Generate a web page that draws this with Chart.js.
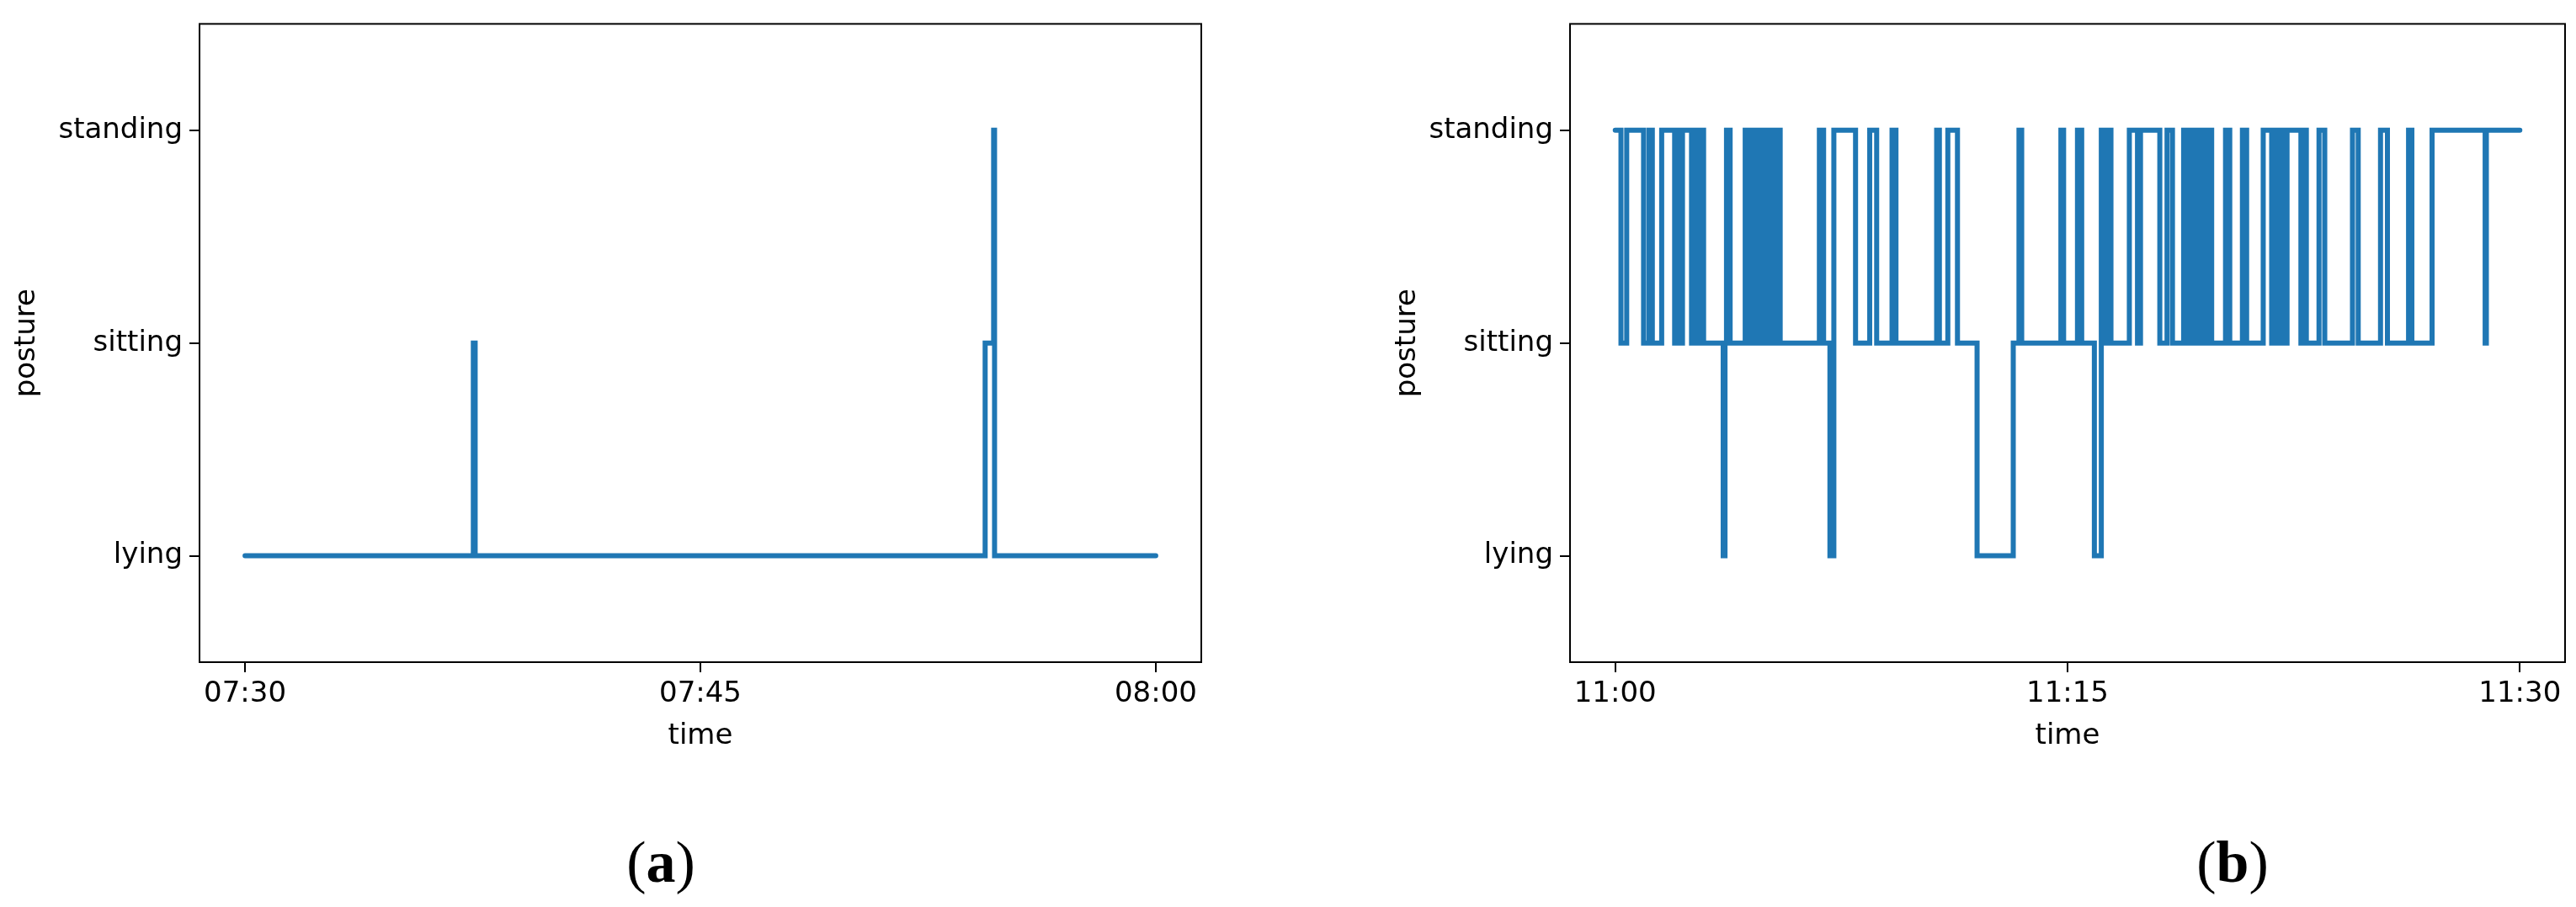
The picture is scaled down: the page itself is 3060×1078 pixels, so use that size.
<!DOCTYPE html>
<html>
<head>
<meta charset="utf-8">
<script src="https://cdn.jsdelivr.net/npm/chart.js@4.4.1/dist/chart.umd.min.js"></script>
<style>
body { margin: 0; width: 3060px; height: 1078px; background: #fff; position: relative; overflow: hidden; }
.box { position: absolute; top: 0; height: 900px; }
.cap { position: absolute; top: 985px; font-family: "Liberation Serif", serif; font-size: 70px; transform: translateX(-50%); }
.cap b { font-weight: bold; }
</style>
</head>
<body>
<div class="box" style="left:0;width:1440px"><canvas id="chartA"></canvas></div>
<div class="box" style="left:1640px;width:1420px"><canvas id="chartB"></canvas></div>
<div class="cap" style="left:785px">(<b>a</b>)</div>
<div class="cap" style="left:2652px">(<b>b</b>)</div>
<script>
// posture levels: 0 lying, 1 sitting, 2 standing
let postureLabels = ["lying", "sitting", "standing"];

// panel (a): minutes after 07:30 where a new posture starts
let timesA = [0, 7.52, 7.58, 24.38, 24.66, 24.69, 30];
let statesA = [0, 1, 0, 1, 2, 0, 0];
let tickLabelsA = ["07:30", "07:45", "08:00"];

// panel (b): minutes after 11:00 where a new posture starts
let timesB = [0, 0.19, 0.38, 0.94, 1.12, 1.23, 1.54, 1.97, 2.06, 2.14, 2.23, 2.53, 2.62, 2.74, 2.83, 2.93,
  3.58, 3.64, 3.69, 3.81, 4.31, 4.41, 4.50, 4.59, 4.73, 4.87, 4.96, 5.05, 5.14, 5.24, 5.33, 5.47,
  6.77, 6.91, 7.12, 7.25, 7.97, 8.44, 8.67, 9.18, 9.31, 10.66, 10.75, 11.03, 11.35, 12.0, 13.2,
  13.39, 13.48, 14.78, 14.87, 15.33, 15.47, 15.89, 16.12, 16.19, 16.26, 16.33, 16.38, 16.44,
  17.05, 17.32, 17.42, 18.06, 18.30, 18.48, 18.85, 18.99, 19.08, 19.17, 19.26, 19.35, 19.44,
  19.54, 19.63, 19.78, 20.24, 20.38, 20.80, 20.94, 21.49, 21.77, 21.86, 21.95, 22.05, 22.19,
  22.28, 22.74, 22.83, 22.92, 23.34, 23.53, 24.45, 24.64, 25.38, 25.61, 26.31, 26.42, 27.09,
  28.85, 28.89, 30];
let statesB = [2, 1, 2, 1, 2, 1, 2, 1, 2, 1, 2, 1, 2, 1, 2, 1,
  0, 1, 2, 1, 2, 1, 2, 1, 2, 1, 2, 1, 2, 1, 2, 1,
  2, 1, 0, 2, 1, 2, 1, 2, 1, 2, 1, 2, 1, 0, 1,
  2, 1, 2, 1, 2, 1, 0, 2, 1, 2, 1, 2, 1,
  2, 1, 2, 1, 2, 1, 2, 1, 2, 1, 2, 1, 2,
  1, 2, 1, 2, 1, 2, 1, 2, 1, 2, 1, 2, 1,
  2, 1, 2, 1, 2, 1, 2, 1, 2, 1, 2, 1, 2,
  1, 2, 2];
let tickLabelsB = ["11:00", "11:15", "11:30"];
let tickMinutes = [0, 15, 30];

let frame = {
  id: "frame",
  afterDraw(chart) {
    let a = chart.chartArea, c = chart.ctx;
    c.save();
    c.strokeStyle = "#000";
    c.lineWidth = 2;
    c.strokeRect(a.left, a.top, a.right - a.left, a.bottom - a.top);
    c.restore();
  }
};

function makeChart(id, times, states, tickLabels, yWidth) {
  let font = { family: "DejaVu Sans", size: 34 };
  return new Chart(document.getElementById(id), {
    type: "line",
    data: {
      datasets: [{
        data: times.map((t, i) => ({ x: t, y: states[i] })),
        borderColor: "#1f77b4",
        borderWidth: 6,
        pointRadius: 0,
        stepped: "before",
        borderCapStyle: "round"
      }]
    },
    options: {
      responsive: false,
      animation: false,
      layout: { padding: { top: 20, right: 13, left: 0, bottom: 0 } },
      plugins: { legend: { display: false }, tooltip: { enabled: false } },
      scales: {
        x: {
          type: "linear", min: -1.5, max: 31.5,
          afterBuildTicks: s => { s.ticks = tickMinutes.map(v => ({ value: v })); },
          afterFit: s => { s.height = 113; },
          ticks: { font: font, color: "#000", maxRotation: 0, padding: 6,
            callback: v => tickLabels[tickMinutes.indexOf(v)] },
          grid: { drawOnChartArea: false, tickLength: 12, color: "#000", lineWidth: 2 },
          border: { display: false },
          title: { display: true, text: "time", font: font, color: "#000", padding: { top: 4 } }
        },
        y: {
          min: -0.5, max: 2.5,
          afterBuildTicks: s => { s.ticks = [0, 1, 2].map(v => ({ value: v })); },
          afterFit: s => { s.width = yWidth; },
          ticks: { font: font, color: "#000", padding: 8, callback: v => postureLabels[v] },
          grid: { drawOnChartArea: false, tickLength: 12, color: "#000", lineWidth: 2 },
          border: { display: false },
          title: { display: true, text: "posture", font: font, color: "#000", padding: { top: 12 } }
        }
      }
    },
    plugins: [frame]
  });
}

document.getElementById("chartA").width = 1440;
document.getElementById("chartA").height = 900;
document.getElementById("chartB").width = 1420;
document.getElementById("chartB").height = 900;
makeChart("chartA", timesA, statesA, tickLabelsA, 237);
makeChart("chartB", timesB, statesB, tickLabelsB, 225);
</script>
</body>
</html>
